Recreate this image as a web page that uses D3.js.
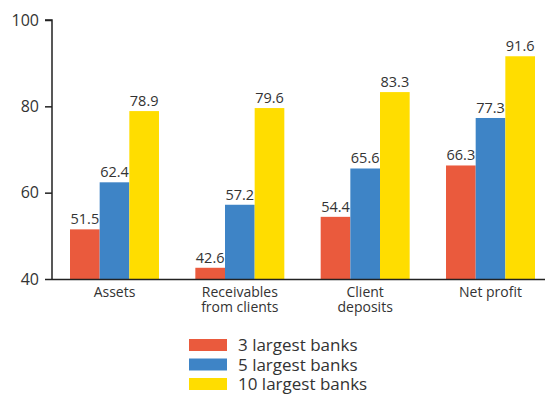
<!DOCTYPE html>
<html>
<head>
<meta charset="utf-8">
<script src="https://cdn.jsdelivr.net/npm/d3@7"></script>
<style>
  html, body { margin: 0; padding: 0; background: #fff; }
  svg { display: block; font-family: "Open Sans", sans-serif; }
</style>
</head>
<body>
<svg id="chart" width="545" height="394"></svg>
<script>
// Market share data for the largest banks
const categories = [["Assets"], ["Receivables", "from clients"], ["Client", "deposits"], ["Net profit"]];
const seriesNames = ["3 largest banks", "5 largest banks", "10 largest banks"];
const top3 = [51.5, 42.6, 54.4, 66.3];
const top5 = [62.4, 57.2, 65.6, 77.3];
const top10 = [78.9, 79.6, 83.3, 91.6];
const yTicks = [40, 60, 80, 100];
const colors = ["#EA5A3D", "#3E84C6", "#FFDD00"];

const series = [top3, top5, top10];
const svg = d3.select("#chart");

const axisLeft = 52, axisRight = 545;
const x0 = d3.scaleBand().domain(d3.range(categories.length)).range([70, 535]).paddingInner(0.29).paddingOuter(0);
const x1 = d3.scaleBand().domain(d3.range(series.length)).range([0, x0.bandwidth()]);
const y = d3.scaleLinear().domain([40, 100]).range([279, 20]);

// Bars
const groups = svg.append("g").selectAll("g")
  .data(categories.map((c, i) => i))
  .join("g")
  .attr("transform", i => `translate(${x0(i)},0)`);

groups.selectAll("rect")
  .data(i => series.map((s, k) => ({ k, v: s[i] })))
  .join("rect")
  .attr("x", d => x1(d.k))
  .attr("width", x1.bandwidth())
  .attr("y", d => y(d.v))
  .attr("height", d => y(40) - y(d.v))
  .attr("fill", d => colors[d.k]);

// Value labels
groups.selectAll("text")
  .data(i => series.map((s, k) => ({ k, v: s[i] })))
  .join("text")
  .attr("x", d => x1(d.k) + x1.bandwidth() / 2)
  .attr("y", d => y(d.v) - 5)
  .attr("text-anchor", "middle")
  .attr("font-size", 14.5)
  .attr("fill", "#333")
  .text(d => d.v.toFixed(1));

// Y axis
const yAxis = svg.append("g")
  .attr("transform", `translate(${axisLeft},0)`)
  .call(d3.axisLeft(y).tickValues(yTicks).tickSize(7).tickPadding(6));
yAxis.select(".domain").attr("stroke", "#222").attr("stroke-width", 1.5).attr("d", `M-7,${y(100)}H0V${y(40)}`);
yAxis.selectAll(".tick line").attr("stroke", "#222").attr("stroke-width", 1.5);
yAxis.selectAll(".tick text").attr("font-size", 16).attr("fill", "#333").attr("font-family", "'Open Sans', sans-serif");

// X baseline
svg.append("line")
  .attr("x1", axisLeft).attr("x2", axisRight)
  .attr("y1", y(40) + 0.5).attr("y2", y(40) + 0.5)
  .attr("stroke", "#222").attr("stroke-width", 1.5);

// Category labels
const catLabels = svg.append("g").selectAll("text")
  .data(categories.map((c, i) => ({ c, i })))
  .join("text")
  .attr("x", d => x0(d.i) + x0.bandwidth() / 2)
  .attr("y", 297)
  .attr("text-anchor", "middle")
  .attr("font-size", 14)
  .attr("fill", "#333");
catLabels.selectAll("tspan")
  .data(d => d.c.map((line, j) => ({ line, j, x: x0(d.i) + x0.bandwidth() / 2 })))
  .join("tspan")
  .attr("x", d => d.x)
  .attr("dy", d => d.j === 0 ? 0 : 15)
  .text(d => d.line);

// Legend
const legend = svg.append("g").attr("transform", "translate(189,339)");
const items = legend.selectAll("g")
  .data(seriesNames.map((n, k) => ({ n, k })))
  .join("g")
  .attr("transform", d => `translate(0,${d.k * 19.5})`);
items.append("rect").attr("width", 38).attr("height", 12).attr("fill", d => colors[d.k]);
items.append("text")
  .attr("x", 49).attr("y", 12)
  .attr("font-size", 17)
  .attr("fill", "#333")
  .text(d => d.n);
</script>
</body>
</html>
